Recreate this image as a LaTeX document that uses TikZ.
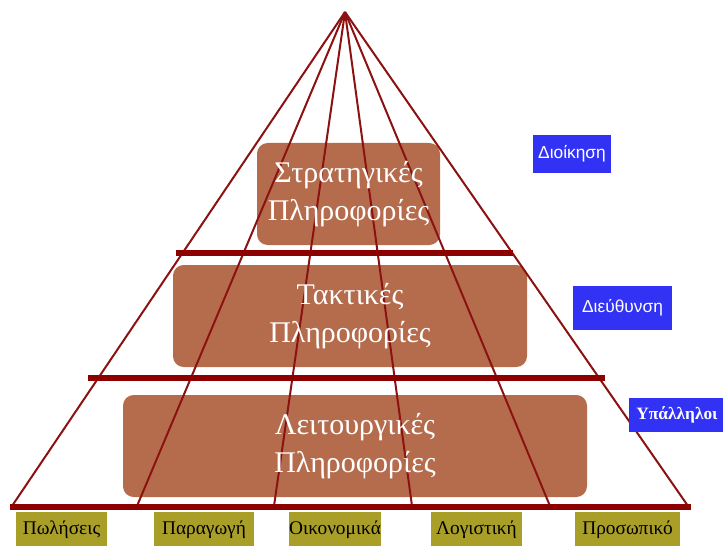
\documentclass[tikz,border=0pt]{standalone}
\usepackage{fontspec}
\setmainfont{Liberation Serif}
\newfontfamily\labelsans{Liberation Sans}
\usetikzlibrary{calc}
\definecolor{pyrline}{RGB}{140,18,18}
\definecolor{pyrbar}{RGB}{140,0,0}
\definecolor{levelbrown}{RGB}{181,108,77}
\definecolor{rankblue}{RGB}{50,50,245}
\definecolor{deptolive}{RGB}{168,158,40}
\tikzset{
  levelbox/.style={fill=levelbrown, rounded corners=8pt, inner sep=0pt},
  leveltext/.style={text=white, font=\fontsize{22.5}{28.5}\selectfont, align=center},
  rankbox/.style={fill=rankblue, text=white, inner sep=0pt, font=\labelsans\fontsize{13}{15}\selectfont},
  deptbox/.style={fill=deptolive, text=black, inner sep=0pt, font=\fontsize{14.5}{17}\selectfont},
  edge/.style={draw=pyrline, line width=1.5pt},
  tier/.style={draw=pyrbar, line width=3.8pt},
}
\begin{document}
\begin{tikzpicture}[x=0.75pt, y=-0.75pt]
\useasboundingbox (0,0) rectangle (723,545);

% information levels (box fills)
\node[levelbox, minimum width={183*0.75pt}, minimum height={102*0.75pt}] (strat) at (348.5,194) {};
\node[levelbox, minimum width={354*0.75pt}, minimum height={102*0.75pt}] (takt)  at (350,316) {};
\node[levelbox, minimum width={464*0.75pt}, minimum height={102*0.75pt}] (leit)  at (355,446) {};

% apex and base points of the pyramid
\coordinate (apex) at (345,12);
\coordinate (b0) at (12,506);
\coordinate (b1) at (137,506);
\coordinate (b2) at (274,506);
\coordinate (b3) at (412,506);
\coordinate (b4) at (550,506);
\coordinate (b5) at (688,506);

% rays from the apex
\foreach \b in {b0,b1,b2,b3,b4,b5}
  \draw[edge] (apex) -- (\b);

% tier separators and base
\coordinate (t1l) at (176,253);
\coordinate (t1r) at (513,253);
\coordinate (t2l) at (88,378);
\coordinate (t2r) at (605,378);
\coordinate (t3l) at (10,507);
\coordinate (t3r) at (691,507);
\draw[tier] (t1l) -- (t1r);
\draw[tier] (t2l) -- (t2r);
\draw[tier] (t3l) -- (t3r);

% level captions
\node[leveltext] (strattxt) at (strat) {Στρατηγικές\\Πληροφορίες};
\node[leveltext] (takttxt)  at (takt)  {Τακτικές\\Πληροφορίες};
\node[leveltext] (leittxt)  at (leit)  {Λειτουργικές\\Πληροφορίες};

% staff ranks
\node[rankbox, minimum width={78*0.75pt}, minimum height={38*0.75pt}] (dioik) at (572,154) {Διοίκηση};
\node[rankbox, minimum width={99*0.75pt}, minimum height={44*0.75pt}] (dieuth) at (622.5,308) {Διεύθυνση};
\node[rankbox, minimum width={96*0.75pt}, minimum height={34*0.75pt}, font=\bfseries\fontsize{13}{15}\selectfont] (ypal) at (677,415) {Υπάλληλοι};

% departments
\node[deptbox, minimum width={91*0.75pt}, minimum height={36*0.75pt}] (pol)  at (61.5,530) {Πωλήσεις};
\node[deptbox, minimum width={100*0.75pt}, minimum height={36*0.75pt}] (parag) at (204,530) {Παραγωγή};
\node[deptbox, minimum width={90*0.75pt}, minimum height={36*0.75pt}] (oik)  at (335,530) {Οικονομικά};
\node[deptbox, minimum width={91*0.75pt}, minimum height={36*0.75pt}] (log)  at (476.5,530) {Λογιστική};
\node[deptbox, minimum width={105*0.75pt}, minimum height={36*0.75pt}] (pros) at (627.5,530) {Προσωπικό};
\end{tikzpicture}
\end{document}
